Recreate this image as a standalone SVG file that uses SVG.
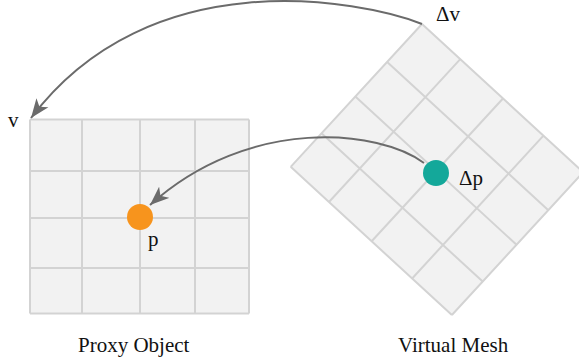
<svg xmlns="http://www.w3.org/2000/svg" xmlns:xlink="http://www.w3.org/1999/xlink" width="579" height="360" viewBox="0 0 579 360">
  <style>
    .cell { fill: #f2f2f2; stroke: none; }
    .gridline { stroke: #d3d3d3; stroke-width: 2; fill: none; }
    .label { font-family: "Liberation Serif", "Times New Roman", serif; font-size: 21px; fill: #111; }
    .caption { font-family: "Liberation Serif", "Times New Roman", serif; font-size: 21px; fill: #111; }
    .link { fill: none; stroke: #6b6b6b; stroke-width: 2; }
  </style>
  <defs>
    <marker id="arrow" markerUnits="userSpaceOnUse" markerWidth="20" markerHeight="16" viewBox="0 0 20 16" refX="19" refY="8" orient="auto">
      <path d="M0,0.5 L19,8 L0,15.5 L5,8 Z" fill="#6b6b6b"/>
    </marker>
    <!-- 4x4 mesh, 219 x 194, local origin at its top-left corner -->
    <g id="mesh">
      <rect class="cell" x="0" y="0" width="219" height="194"/>
      <path class="gridline" d="M0,0 V194 M52,0 V194 M110,0 V194 M165,0 V194 M219,0 V194
                                M0,0 H219 M0,51.5 H219 M0,98.5 H219 M0,148.5 H219 M0,194 H219"/>
    </g>
  </defs>

  <g id="proxy-object">
    <use xlink:href="#mesh" href="#mesh" transform="translate(30,119.5)"/>
    <circle cx="140" cy="217" r="13" fill="#f7941d"/>
    <text class="label" x="8" y="127">v</text>
    <text class="label" x="148" y="246">p</text>
    <text class="caption" x="78" y="352">Proxy Object</text>
  </g>

  <g id="virtual-mesh">
    <use xlink:href="#mesh" href="#mesh" transform="translate(422,24) rotate(42.6)"/>
    <circle cx="436" cy="173" r="13" fill="#14a89a"/>
    <text class="label" x="436" y="21">Δv</text>
    <text class="label" x="459" y="185">Δp</text>
    <text class="caption" x="398" y="352">Virtual Mesh</text>
  </g>

  <!-- connectors drawn last so they sit above both meshes -->
  <g id="connectors">
    <path class="link" d="M422,24 C360,0 150,-40 31,118" marker-end="url(#arrow)"/>
    <path class="link" d="M424,163 C380,130 250,115 150,205" marker-end="url(#arrow)"/>
  </g>
</svg>
